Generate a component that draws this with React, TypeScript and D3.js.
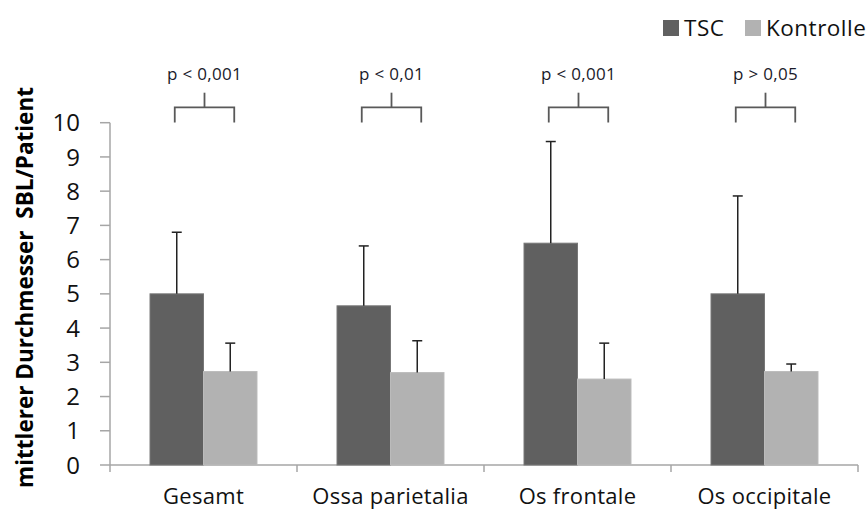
import React from 'react'
import * as d3 from 'd3'

const categories = ['Gesamt', 'Ossa parietalia', 'Os frontale', 'Os occipitale']
const series = ['TSC', 'Kontrolle']
const tscValues = [5.0, 4.65, 6.48, 5.0]
const tscErrors = [1.8, 1.75, 2.97, 2.86]
const kontrolleValues = [2.73, 2.7, 2.51, 2.73]
const kontrolleErrors = [0.83, 0.93, 1.05, 0.22]
const pLabels = ['p < 0,001', 'p < 0,01', 'p < 0,001', 'p > 0,05']
const yTicks = [0, 1, 2, 3, 4, 5, 6, 7, 8, 9, 10]

const colors: Record<string, string> = { TSC: '#606060', Kontrolle: '#b2b2b2' }
const font = '"Open Sans", Lato, sans-serif'

export default function App() {
  const width = 867
  const height = 511
  const left = 110
  const right = 858
  const top = 122.7
  const bottom = 465

  const x = d3.scaleBand<string>().domain(categories).range([left, right])
  const inner = d3.scaleBand<string>().domain(series).range([0, x.bandwidth()]).paddingOuter(0.748)
  const y = d3.scaleLinear().domain([0, 10]).range([bottom, top])

  const rows = categories.map((c, i) => ({
    cat: c,
    bars: [
      { s: 'TSC', v: tscValues[i], e: tscErrors[i] },
      { s: 'Kontrolle', v: kontrolleValues[i], e: kontrolleErrors[i] },
    ],
    p: pLabels[i],
  }))

  const bw = inner.bandwidth()

  return (
    <svg width={width} height={height} style={{ position: 'absolute', left: 0, top: 0, background: '#fff' }} fontFamily={font}>
      {/* y axis */}
      <line x1={left} x2={left} y1={top} y2={bottom} stroke="#a6a6a6" strokeWidth={1.5} />
      {yTicks.map(t => (
        <g key={t}>
          <line x1={left - 10} x2={left} y1={y(t)} y2={y(t)} stroke="#a6a6a6" strokeWidth={1.5} />
          <text x={80} y={y(t)} dy="0.36em" textAnchor="end" fontSize={24} fill="#111">{t}</text>
        </g>
      ))}
      <text
        transform={`translate(33, ${(88 + 487) / 2}) rotate(-90)`}
        textAnchor="middle"
        fontSize={22.5}
        fontWeight="bold"
        fill="#000"
        style={{ whiteSpace: 'pre' }}
      >
        {'mittlerer Durchmesser  SBL/Patient'}
      </text>

      {/* x axis */}
      <line x1={left} x2={right} y1={bottom} y2={bottom} stroke="#a6a6a6" strokeWidth={1.5} />
      {categories.concat(['']).map((c, i) => {
        const xp = left + i * x.step()
        return <line key={i} x1={xp} x2={xp} y1={bottom} y2={bottom + 7} stroke="#a6a6a6" strokeWidth={1.5} />
      })}
      {categories.map(c => (
        <text key={c} x={x(c)! + x.bandwidth() / 2} y={504} textAnchor="middle" fontSize={22} letterSpacing={0.3} fill="#111">{c}</text>
      ))}

      {/* bars */}
      {rows.map(r => (
        <g key={r.cat} transform={`translate(${x(r.cat)},0)`}>
          {r.bars.map(b => {
            const bx = inner(b.s)!
            const cx = bx + bw / 2
            return (
              <g key={b.s}>
                <rect x={bx} y={y(b.v)} width={bw} height={bottom - y(b.v)} fill={colors[b.s]} stroke={b.s === 'TSC' ? '#777' : '#bbb'} strokeWidth={1} />
                <line x1={cx} x2={cx} y1={y(b.v)} y2={y(b.v + b.e)} stroke="#222" strokeWidth={1.5} />
                <line x1={cx - 5} x2={cx + 5} y1={y(b.v + b.e)} y2={y(b.v + b.e)} stroke="#222" strokeWidth={1.5} />
              </g>
            )
          })}
          {/* significance bracket */}
          {(() => {
            const x1 = inner('TSC')! + bw / 2 - 2
            const x2 = inner('Kontrolle')! + bw / 2 + 4
            const xm = (x1 + x2) / 2
            return (
              <g>
                <path d={`M${x1},122.5V107.3H${x2}V122.5`} fill="none" stroke="#595959" strokeWidth={1.8} />
                <line x1={xm} x2={xm} y1={92.7} y2={107.3} stroke="#595959" strokeWidth={1.8} />
                <text x={xm} y={80} textAnchor="middle" fontSize={17} letterSpacing={0.3} fill="#1a1a2a">{r.p}</text>
              </g>
            )
          })()}
        </g>
      ))}

      {/* legend */}
      <rect x={663} y={20} width={16} height={16} fill={colors.TSC} />
      <text x={684} y={35.5} fontSize={22.5} letterSpacing={0.5} fill="#111">TSC</text>
      <rect x={745} y={20} width={16} height={16} fill={colors.Kontrolle} />
      <text x={766} y={35.5} fontSize={22.5} letterSpacing={0.5} fill="#111">Kontrolle</text>
    </svg>
  )
}
